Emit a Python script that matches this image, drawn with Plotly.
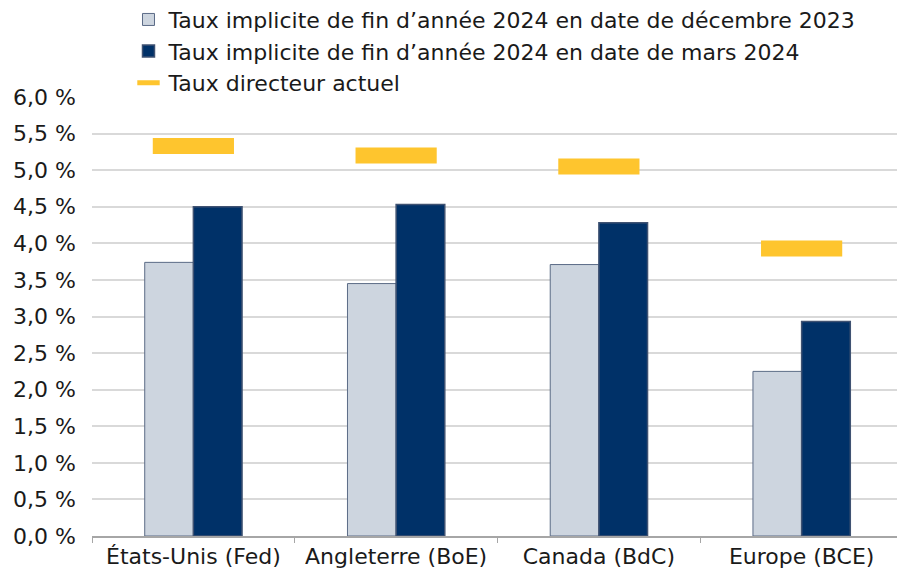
import plotly.graph_objects as go

# Data
categories = ["États-Unis (Fed)", "Angleterre (BoE)", "Canada (BdC)", "Europe (BCE)"]
taux_dec_2023 = [3.74, 3.45, 3.71, 2.25]
taux_mars_2024 = [4.50, 4.53, 4.28, 2.93]
taux_directeur = [5.33, 5.20, 5.05, 3.93]

tick_vals = [0, 0.5, 1, 1.5, 2, 2.5, 3, 3.5, 4, 4.5, 5, 5.5, 6]
tick_text = ["0,0 %", "0,5 %", "1,0 %", "1,5 %", "2,0 %", "2,5 %", "3,0 %",
             "3,5 %", "4,0 %", "4,5 %", "5,0 %", "5,5 %", "6,0 %"]

FONT = "DejaVu Sans"
TXT = "#1a1a1a"
FS = 22

fig = go.Figure()

fig.add_trace(go.Bar(
    x=categories, y=taux_dec_2023,
    name="Taux implicite de fin d’année 2024 en date de décembre 2023",
    marker=dict(color="#cdd5df", line=dict(color="#5b6b86", width=1)),
))
fig.add_trace(go.Bar(
    x=categories, y=taux_mars_2024,
    name="Taux implicite de fin d’année 2024 en date de mars 2024",
    marker=dict(color="#003168", line=dict(color="#3f5272", width=1.5)),
))
fig.add_trace(go.Scatter(
    x=categories, y=taux_directeur,
    name="Taux directeur actuel",
    mode="markers",
    marker=dict(symbol="line-ew", size=58,
                line=dict(color="#fec52e", width=16)),
))

# page body has an 8px margin, so the figure is sized to fit inside 905x569
fig.update_layout(
    width=897, height=561,
    margin=dict(l=84, r=2, t=89, b=33, autoexpand=False),
    paper_bgcolor="white", plot_bgcolor="white",
    font=dict(family=FONT, size=FS, color=TXT),
    barmode="group", bargap=0.52, bargroupgap=0,
    showlegend=True,
    legend=dict(
        x=0.045, y=1.224, xanchor="left", yanchor="top",
        orientation="v", traceorder="normal",
        font=dict(family=FONT, size=FS, color=TXT),
        itemwidth=30, tracegroupgap=0,
        bgcolor="rgba(0,0,0,0)",
    ),
)

fig.update_xaxes(
    showline=True, linecolor="#a6a6a6", linewidth=1.5,
    ticks="outside", tickson="boundaries", ticklen=5, tickcolor="#a6a6a6",
    showgrid=False,
    tickfont=dict(family=FONT, size=FS, color=TXT),
)
fig.update_yaxes(
    range=[0, 6], tickvals=tick_vals, ticktext=tick_text,
    showgrid=True, gridcolor="#d9d9d9", gridwidth=1.5,
    showline=False, zeroline=False,
    ticks="", ticklabelstandoff=15,
    tickfont=dict(family=FONT, size=FS, color=TXT),
)

fig.write_html("out.html")
